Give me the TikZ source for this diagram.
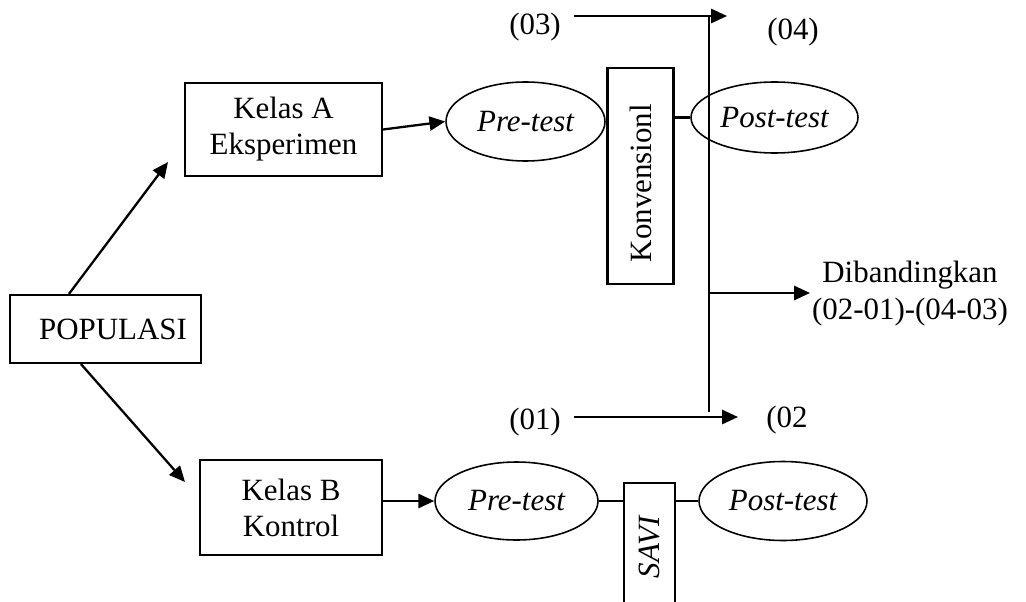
\documentclass[tikz,border=0pt]{standalone}
\usepackage{fontspec}
\setmainfont{Liberation Serif}
\usepackage{tikz}
\usetikzlibrary{arrows.meta,positioning,shapes}

\tikzset{
  box/.style={draw,line width=1.2pt,rectangle,align=center,inner sep=0pt},
  oval/.style={draw,line width=0.9pt,ellipse,inner sep=0pt},
  arr/.style={line width=1.3pt,-{Triangle[length=9pt,width=8pt]}},
  ln/.style={line width=1.2pt}
}

\begin{document}
\begin{tikzpicture}[x=0.02cm,y=-0.02cm,font=\fontsize{17.6}{20.5}\selectfont]
  \useasboundingbox (0,0) rectangle (1026,601);
  \clip (0,0) rectangle (1026,601);
  \node [box,minimum width=3.82cm,minimum height=1.36cm] (pop) at (105.5,329) {\hspace*{0.3cm}POPULASI};
  \node [box,minimum width=3.94cm,minimum height=1.86cm] (kelasA) at (283.5,129.5) {Kelas A\\Eksperimen};
  \node [box,minimum width=3.64cm,minimum height=1.9cm] (kelasB) at (291,507.5) {Kelas B\\Kontrol};
  \node [oval,minimum width=3.18cm,minimum height=1.58cm] (preA) at (525.5,121.5) {\itshape Pre-test};
  \node [oval,minimum width=3.26cm,minimum height=1.56cm] (preB) at (516.5,501) {\itshape Pre-test};
  \node [box,minimum width=1.32cm,minimum height=4.32cm] (konv) at (640.5,176) {};
  \node [rotate=90] (konvtext) at (640.5,183) {Konvensionl};
  \node [box,minimum width=1.02cm,minimum height=3.14cm] (savi) at (649.5,561.5) {};
  \node [rotate=90] (savitext) at (649.5,547) {\itshape SAVI};
  \node [oval,minimum width=3.34cm,minimum height=1.42cm] (postA) at (774.5,117.5) {\itshape Post-test};
  \node [oval,minimum width=3.36cm,minimum height=1.58cm] (postB) at (783,501) {\itshape Post-test};
  \node (o3) at (535,27) {(03)};
  \node (o4) at (793,32) {(04)};
  \node (o1) at (535,422) {(01)};
  \node (o2) at (787,420) {(02};
  \node [align=center,font=\fontsize{17.6}{21}\selectfont] (banding) at (910,293.5) {Dibandingkan\\(02-01)-(04-03)};
  \coordinate (tipA) at (168,162);
  \coordinate (tipB) at (185,482);
  \coordinate (a3s) at (574,16);
  \coordinate (a3e) at (727,16);
  \coordinate (a1s) at (574,417);
  \coordinate (a1e) at (738,417);
  \coordinate (vtop) at (709,16);
  \coordinate (vbot) at (709,412);
  \coordinate (vmid) at (709,293);
  \coordinate (tipC) at (810,293);
  \draw [arr] ([xshift=1.2cm]pop.north west) -- (tipA);
  \draw [arr] ([xshift=1.44cm]pop.south west) -- (tipB);
  \draw [arr] (kelasA.east) -- (preA.west);
  \draw [arr] (kelasB.east |- preB.west) -- (preB.west);
  \draw [ln] (postA.west) -- (postA.west -| konv.east);
  \draw [ln] (preB.east) -- (preB.east -| savi.west);
  \draw [ln] (postB.west) -- (postB.west -| savi.east);
  \draw [arr] (a3s) -- (a3e);
  \draw [arr] (a1s) -- (a1e);
  \draw [ln] (vtop) -- (vbot);
  \draw [arr] (vmid) -- (tipC);
\end{tikzpicture}
\end{document}
